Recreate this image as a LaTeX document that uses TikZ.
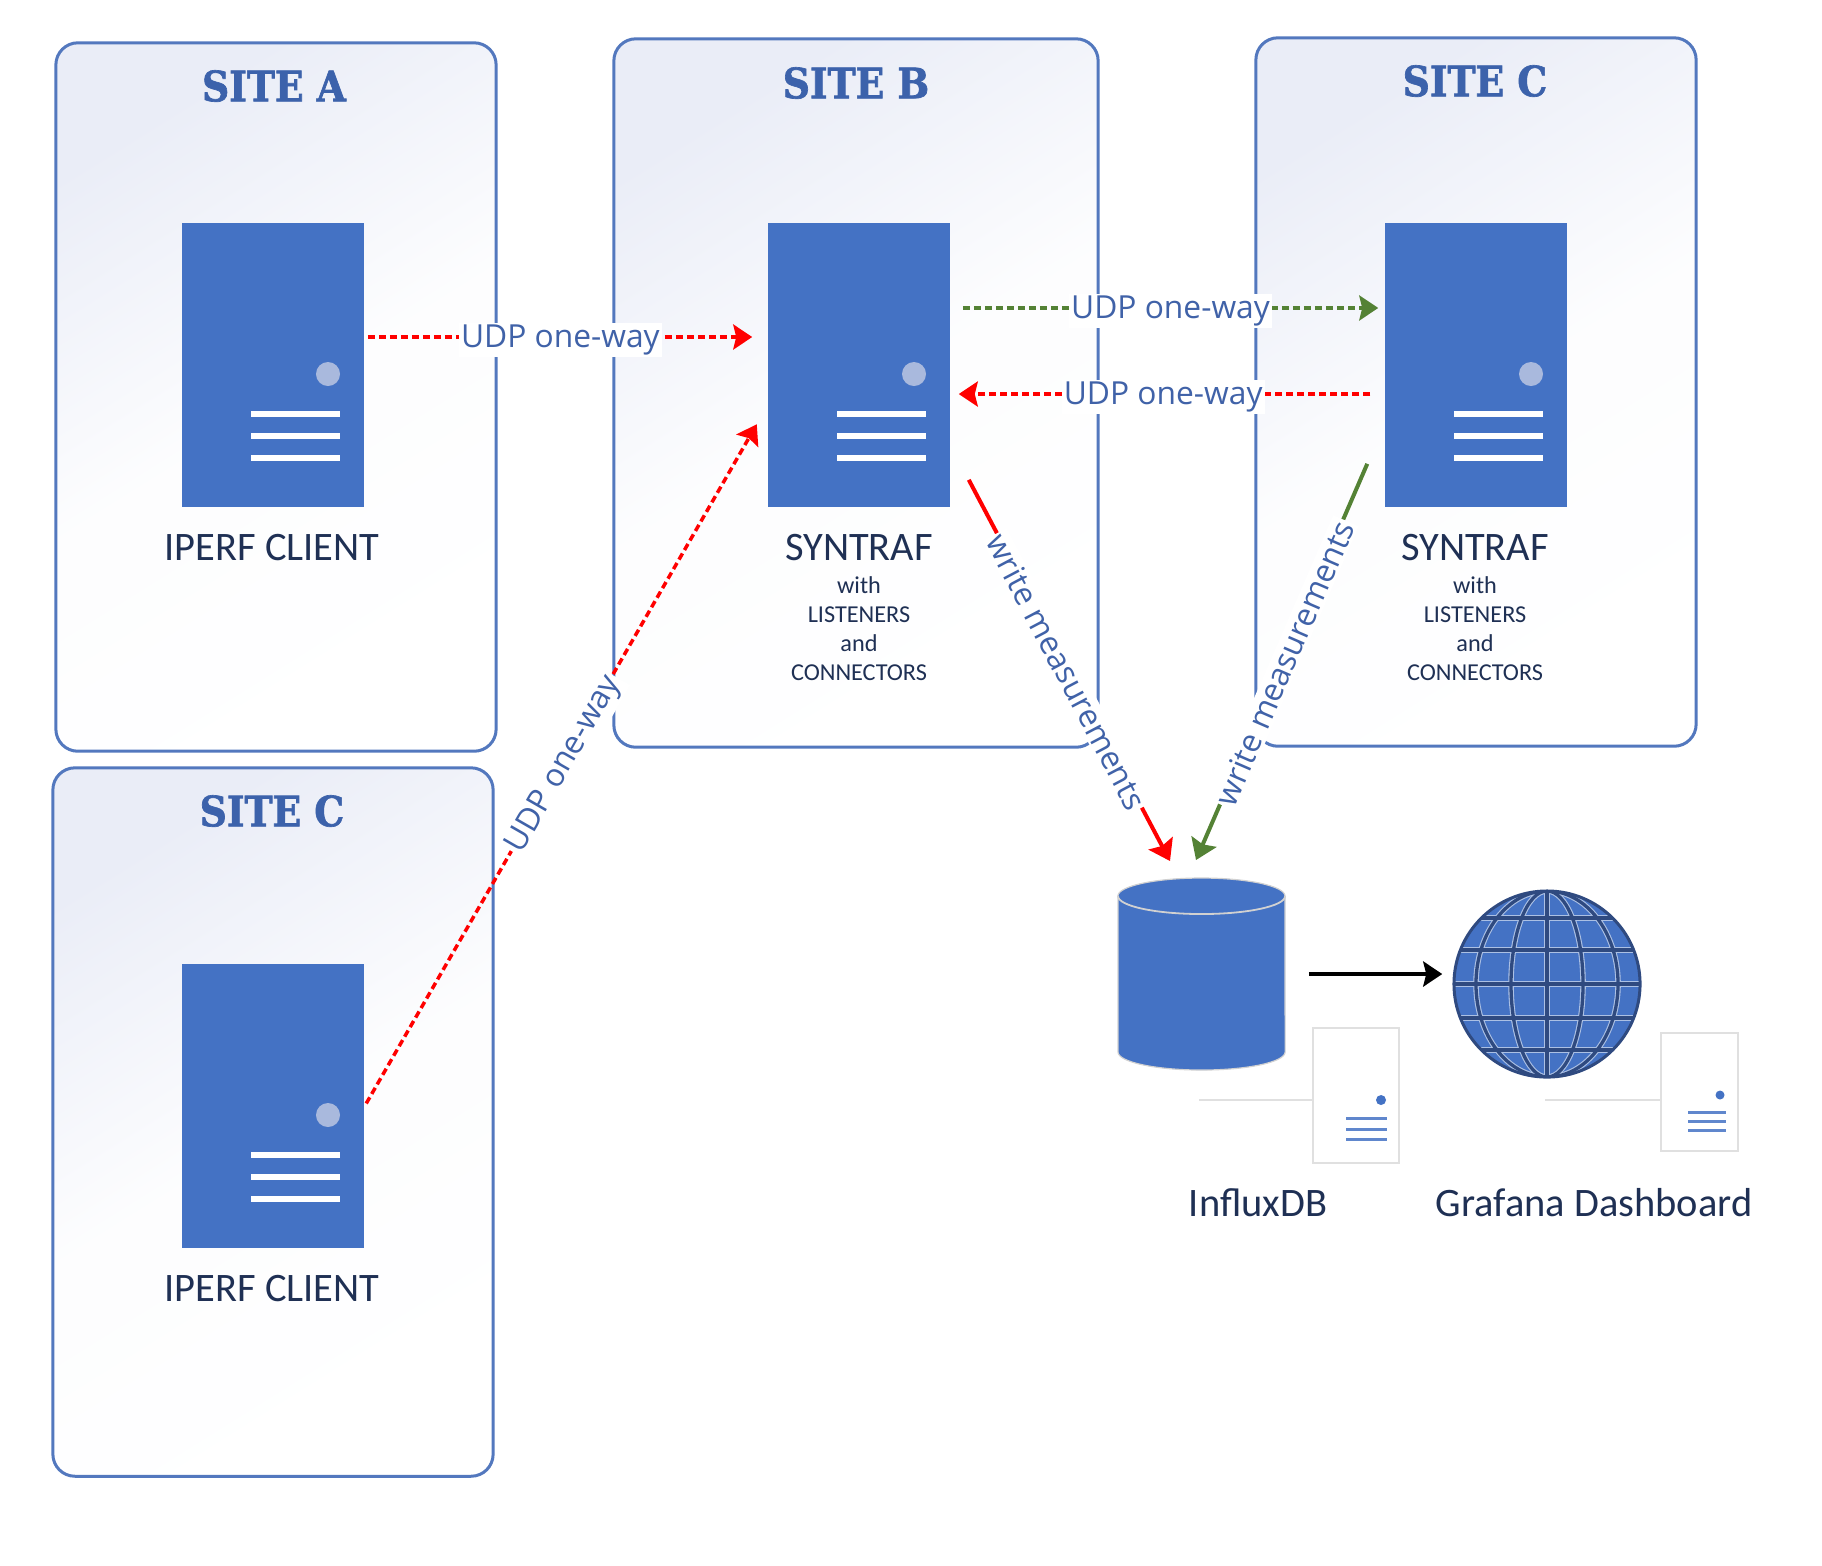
\documentclass[tikz,border=0pt]{standalone}
\usepackage{fontspec}
\setmainfont{Carlito}
\newfontfamily\udpfont{Open Sans}
\newfontfamily\stencilfont[BoldFeatures={FakeBold=1.6}]{DejaVu Serif Condensed}
\definecolor{serverBlue}{HTML}{4472C4}
\definecolor{siteLine}{HTML}{5378BE}
\definecolor{siteTint}{HTML}{EAEDF7}
\definecolor{titleBlue}{HTML}{3C62AB}
\definecolor{labelBlue}{HTML}{4062A8}
\definecolor{textNavy}{HTML}{1F3054}
\definecolor{dotGrey}{HTML}{A9B9DD}
\definecolor{globeDark}{HTML}{2F4A80}
\definecolor{udpRed}{HTML}{FF0000}
\definecolor{udpGreen}{HTML}{548235}
\usetikzlibrary{arrows.meta, positioning}

\begin{document}
\begin{tikzpicture}[
    x=0.01cm, y=-0.01cm,
    sitebox/.style={rectangle, draw=siteLine, line width=0.03cm, rounded corners=0.22cm,
                 top color=siteTint, bottom color=white, middle color=siteTint!12, shading angle=32,
                 minimum width=4.40cm, minimum height=7.08cm, inner sep=0pt},
    sitetitle/.style={font=\stencilfont\bfseries\fontsize{11.9}{13}\selectfont, text=titleBlue, inner sep=0pt},
    serverbox/.style={rectangle, fill=serverBlue, minimum width=1.82cm, minimum height=2.84cm, inner sep=0pt},
    hostname/.style={font=\fontsize{11.5}{13}\selectfont, text=textNavy, inner sep=0pt},
    hostdetail/.style={font=\fontsize{6.9}{8.25}\selectfont, text=textNavy, align=center, inner sep=0pt},
    linklabel/.style={font=\udpfont\fontsize{9.03}{11}\selectfont, text=labelBlue, fill=white, inner sep=0.6pt, yshift=-0.03cm},
    udplink/.style={-{Stealth[length=0.19cm, width=0.25cm, inset=0.03cm]}, line width=0.035cm, dash pattern=on 0.07cm off 0.04cm, #1},
    writelink/.style={-{Stealth[length=0.2cm, width=0.27cm, inset=0.03cm]}, line width=0.04cm, #1},
    smallbox/.style={rectangle, draw=black!12, fill=white, line width=0.015cm, inner sep=0pt},
    smallrule/.style={draw=black!12, line width=0.015cm}
  ]
    \useasboundingbox (0,0) rectangle (1822,1565);

    \node[sitebox] (sitea) at (276,397) {};
    \node[sitebox, minimum width=4.84cm] (siteb) at (856,393) {};
    \node[sitebox] (sitec) at (1476,392) {};
    \node[sitebox] (sited) at (273,1122) {};

    \node[sitetitle] (titlea) at (274,86) {SITE A};
    \node[sitetitle] (titleb) at (856,83) {SITE B};
    \node[sitetitle] (titlec) at (1475,81) {SITE C};
    \node[sitetitle] (titled) at (272,811) {SITE C};

    \foreach \nm/\px/\py in {servera/182/223, serverb/768/223, serverc/1385/223, serverd/182/964} {
      \node[serverbox] (\nm) at (\px+91, \py+142) {};
      \fill[dotGrey] (\px+146, \py+151) circle (0.12cm);
      \foreach \ly in {191, 213, 235}
        \fill[white] (\px+69, \py+\ly-3) rectangle (\px+158, \py+\ly+3);
    }

    \node[hostname] (namea) at (272,547) {IPERF CLIENT};
    \node[hostname] (named) at (272,1288) {IPERF CLIENT};
    \node[hostname] (nameb) at (859,547) {SYNTRAF};
    \node[hostname] (namec) at (1475,547) {SYNTRAF};
    \node[hostdetail] (detailb) at (859,629) {with\\LISTENERS\\and\\CONNECTORS};
    \node[hostdetail] (detailc) at (1475,629) {with\\LISTENERS\\and\\CONNECTORS};

    \node[rectangle, minimum width=1.67cm, minimum height=1.92cm, inner sep=0pt] (influx) at (1201.5,974) {};
    \filldraw[fill=serverBlue, draw=black!18, line width=0.012cm] (1118,896) -- (1118,1052)
      arc[start angle=180, end angle=360, x radius=0.835cm, y radius=0.18cm] -- (1285,896)
      arc[start angle=0, end angle=180, x radius=0.835cm, y radius=0.18cm] -- cycle;
    \draw[black!18, line width=0.018cm] (1118,896) arc[start angle=180, end angle=360, x radius=0.835cm, y radius=0.18cm];

    \node[circle, fill=serverBlue, minimum size=1.86cm, inner sep=0pt] (globe) at (1547,984) {};
    \begin{scope}
      \clip (globe) circle (0.93cm);
      \foreach \lcol/\lwd in {serverBlue!45/0.055cm, globeDark/0.033cm} {
        \foreach \gy in {-66, -34, 0, 34, 66}
          \draw[draw=\lcol, line width=\lwd] (1454,984+\gy) -- (1640,984+\gy);
        \draw[draw=\lcol, line width=\lwd] (1547,891) -- (1547,1077);
        \draw[draw=\lcol, line width=\lwd] (globe) ellipse (0.36cm and 0.93cm);
        \draw[draw=\lcol, line width=\lwd] (globe) ellipse (0.71cm and 0.93cm);
      }
    \end{scope}
    \draw[globeDark, line width=0.03cm] (globe) circle (0.93cm);

    \node[smallbox, minimum width=0.86cm, minimum height=1.35cm] (boxinflux) at (1356,1095.5) {};
    \node[smallbox, minimum width=0.77cm, minimum height=1.18cm] (boxgrafana) at (1699.5,1092) {};
    \coordinate (ruleinflux) at (1199,1100);
    \coordinate (rulegrafana) at (1545,1100);
    \draw[smallrule] (ruleinflux) -- (boxinflux.west |- ruleinflux);
    \draw[smallrule] (rulegrafana) -- (boxgrafana.west |- rulegrafana);
    \fill[serverBlue] (1381,1100) circle (0.05cm);
    \foreach \ly in {1118, 1129, 1139}
      \draw[serverBlue!85, line width=0.03cm] (1346,\ly) -- (1387,\ly);
    \fill[serverBlue] (1720,1095) circle (0.045cm);
    \foreach \ly in {1112, 1121, 1130}
      \draw[serverBlue!85, line width=0.03cm] (1688,\ly) -- (1726,\ly);

    \node[hostname] (nameinflux) at (1258,1203) {InfluxDB};
    \node[hostname] (namegrafana) at (1594,1203) {Grafana Dashboard};

    \coordinate (dbred) at (1170,861);
    \coordinate (dbgreen) at (1196,860);

    \draw[udplink=udpRed, shorten <=0.03cm, shorten >=0.15cm] ([yshift=0.28cm]servera.east) -- node[linklabel, pos=0.486] {UDP one-way} ([yshift=0.28cm]serverb.west);
    \draw[udplink=udpGreen, shorten <=0.12cm, shorten >=0.06cm] ([yshift=0.57cm]serverb.east) -- node[linklabel, pos=0.507] {UDP one-way} ([yshift=0.57cm]serverc.west);
    \draw[udplink=udpRed, shorten <=0.14cm, shorten >=0.08cm] ([yshift=-0.29cm]serverc.west) -- node[linklabel, pos=0.51] {UDP one-way} ([yshift=-0.29cm]serverb.east);
    \draw[udplink=udpRed, shorten <=0.03cm, shorten >=0.21cm] (serverd.east) -- node[linklabel, sloped, pos=0.49] {UDP one-way} ([yshift=-0.41cm]serverb.west);
    \draw[writelink=udpRed] ([shift={(18,-28)}]serverb.south east) -- node[linklabel, sloped] {write measurements} (dbred);
    \draw[writelink=udpGreen] ([shift={(-17,-44)}]serverc.south west) -- node[linklabel, sloped] {write measurements} (dbgreen);
    \draw[-{Stealth[length=0.19cm, width=0.25cm, inset=0.03cm]}, line width=0.04cm, shorten <=0.23cm, shorten >=0.11cm] (influx.east) -- (influx.east -| globe.west);
  \end{tikzpicture}
\end{document}
